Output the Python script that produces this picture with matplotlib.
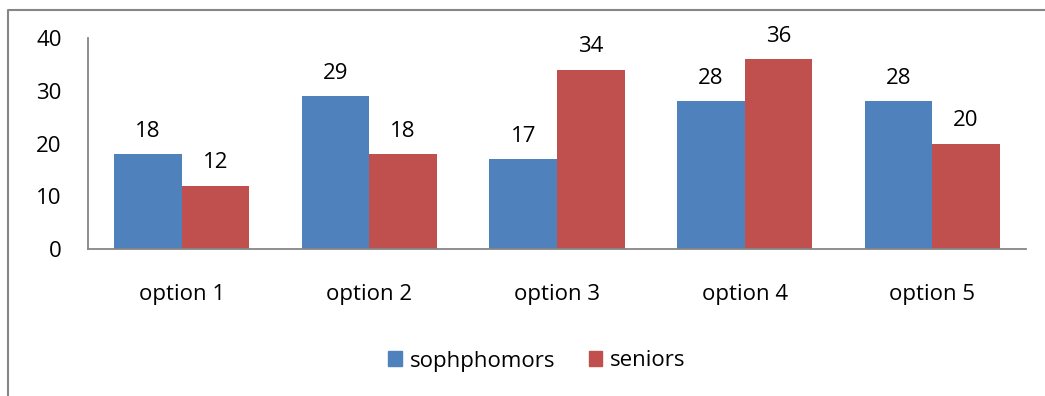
import numpy as np
import matplotlib.pyplot as plt
from matplotlib.lines import Line2D
from matplotlib.patches import Patch

plt.rcParams['font.family'] = ['Open Sans', 'DejaVu Sans']

# survey answers per option
options = ["option 1", "option 2", "option 3", "option 4", "option 5"]
sophphomors = [18, 29, 17, 28, 28]
seniors = [12, 18, 34, 36, 20]

blue = "#4F81BD"
red = "#C0504D"
grey = "#868686"
fs = 16

fig = plt.figure(figsize=(10.45, 3.96), dpi=100)
ax = fig.add_axes([88 / 1045, 147 / 396, 938 / 1045, 211 / 396])

x = np.arange(len(options))
w = 0.36
b1 = ax.bar(x - w / 2, sophphomors, w, color=blue, label="sophphomors")
b2 = ax.bar(x + w / 2, seniors, w, color=red, label="seniors")
ax.bar_label(b1, padding=9, fontsize=fs)
ax.bar_label(b2, padding=9, fontsize=fs)

ax.set_xlim(-0.5, len(options) - 0.5)
ax.set_ylim(0, 40)
ax.set_yticks([0, 10, 20, 30, 40])
ax.set_xticks(x)
ax.set_xticklabels(options)
ax.tick_params(axis="y", length=0, pad=19, labelsize=fs)
ax.tick_params(axis="x", length=0, pad=25, labelsize=fs)

for s in ["top", "right"]:
    ax.spines[s].set_visible(False)
for s in ["left", "bottom"]:
    ax.spines[s].set_color(grey)
    ax.spines[s].set_linewidth(1.3)

# chart frame (only top and left edges are visible)
fig.add_artist(Line2D([8 / 1045, 8 / 1045, 1.0], [0.0, 1 - 9.5 / 396, 1 - 9.5 / 396],
                      transform=fig.transFigure, color=grey, lw=1.5))

handles = [Patch(color=blue, label="sophphomors"), Patch(color=red, label="seniors")]
fig.legend(handles=handles, loc="center", bbox_to_anchor=(537 / 1045, 1 - 361 / 396),
           ncol=2, frameon=False, fontsize=fs, handlelength=0.62, handleheight=0.62,
           handletextpad=0.35, columnspacing=1.5)

fig.savefig("out.png", dpi=100)
